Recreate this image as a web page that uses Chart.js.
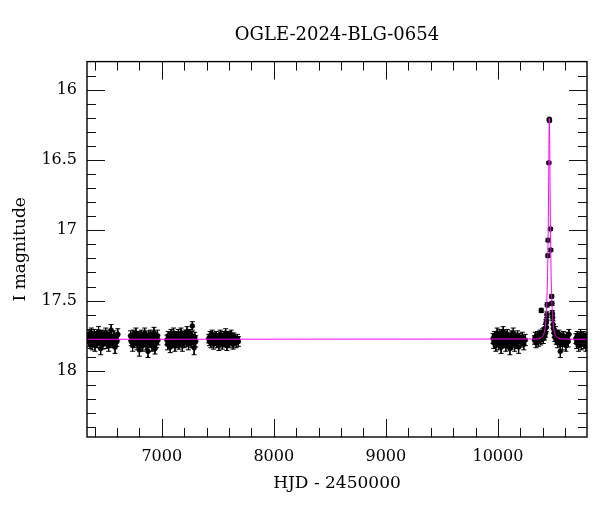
<!DOCTYPE html>
<html>
<head>
<meta charset="utf-8">
<script src="https://cdn.jsdelivr.net/npm/chart.js@4.4.1/dist/chart.umd.min.js"></script>
<style>
  html, body { margin: 0; padding: 0; background: #fff; }
  canvas { display: block; }
</style>
</head>
<body>
<canvas id="lc" width="600" height="512"></canvas>
<script>
// OGLE-2024-BLG-0654 light curve: [HJD-2450000, I mag, error]

const season2013 = [
    [6341,17.76,0.03],[6348,17.79,0.035],[6353,17.74,0.03],[6360,17.80,0.04],[6366,17.77,0.03],
    [6372,17.73,0.035],[6379,17.81,0.04],[6385,17.76,0.03],[6391,17.78,0.03],[6398,17.74,0.035],
    [6404,17.82,0.04],[6410,17.77,0.03],[6417,17.75,0.03],[6423,17.80,0.035],[6430,17.78,0.03],
    [6436,17.72,0.035],[6442,17.79,0.03],[6449,17.76,0.03],[6455,17.84,0.045],[6461,17.77,0.03],
    [6468,17.74,0.03],[6474,17.81,0.035],[6480,17.78,0.03],[6487,17.75,0.035],[6493,17.79,0.03],
    [6500,17.73,0.035],[6506,17.80,0.04],[6512,17.77,0.03],[6519,17.76,0.03],[6526,17.82,0.04],
    [6533,17.74,0.03],[6540,17.78,0.035],[6548,17.71,0.04],[6556,17.80,0.035],[6565,17.77,0.03],
    [6574,17.75,0.035],[6583,17.83,0.045],[6592,17.76,0.03],[6600,17.79,0.035],[6608,17.74,0.04]
];

const season2014 = [
    [6722,17.75,0.035],[6728,17.79,0.03],[6734,17.77,0.03],[6740,17.82,0.04],[6746,17.74,0.03],
    [6752,17.78,0.03],[6758,17.80,0.035],[6764,17.76,0.03],[6770,17.73,0.035],[6776,17.79,0.03],
    [6782,17.81,0.04],[6788,17.77,0.03],[6794,17.75,0.03],[6800,17.85,0.045],[6806,17.78,0.03],
    [6812,17.80,0.035],[6818,17.74,0.03],[6824,17.77,0.03],[6830,17.82,0.04],[6836,17.76,0.03],
    [6842,17.79,0.035],[6848,17.73,0.035],[6854,17.78,0.03],[6860,17.81,0.04],[6866,17.76,0.03],
    [6872,17.79,0.03],[6877,17.86,0.045],[6883,17.75,0.035],[6889,17.78,0.03],[6895,17.80,0.035],
    [6901,17.74,0.03],[6907,17.77,0.03],[6913,17.82,0.04],[6919,17.76,0.035],[6925,17.79,0.03],
    [6931,17.73,0.04],[6937,17.78,0.03],[6940,17.84,0.04],[6947,17.76,0.035],[6954,17.80,0.035],
    [6962,17.75,0.04],[6966,17.78,0.035]
];

const season2015 = [
    [7046,17.78,0.035],[7052,17.81,0.04],[7058,17.75,0.03],[7064,17.79,0.03],[7070,17.77,0.03],
    [7076,17.83,0.04],[7082,17.74,0.035],[7088,17.78,0.03],[7094,17.80,0.035],[7100,17.76,0.03],
    [7106,17.73,0.035],[7112,17.79,0.03],[7118,17.82,0.04],[7124,17.77,0.03],[7130,17.75,0.03],
    [7136,17.80,0.035],[7142,17.78,0.03],[7148,17.74,0.035],[7154,17.81,0.035],[7160,17.76,0.03],
    [7166,17.79,0.03],[7172,17.73,0.035],[7178,17.77,0.03],[7184,17.82,0.04],[7190,17.75,0.03],
    [7196,17.78,0.03],[7202,17.80,0.035],[7208,17.74,0.03],[7214,17.77,0.03],[7220,17.79,0.035],
    [7226,17.72,0.035],[7232,17.76,0.03],[7238,17.81,0.04],[7244,17.78,0.03],[7250,17.74,0.035],
    [7256,17.77,0.03],[7262,17.80,0.035],[7268,17.75,0.03],[7273,17.68,0.03],[7280,17.78,0.035],
    [7289,17.835,0.05],[7295,17.76,0.035],[7303,17.79,0.04]
];

const season2016 = [
    [7420,17.77,0.03],[7426,17.79,0.03],[7432,17.75,0.03],[7438,17.80,0.035],[7444,17.77,0.025],
    [7450,17.74,0.03],[7456,17.78,0.03],[7462,17.81,0.035],[7468,17.76,0.03],[7474,17.79,0.03],
    [7480,17.77,0.025],[7486,17.75,0.03],[7492,17.80,0.035],[7498,17.78,0.03],[7504,17.76,0.025],
    [7510,17.82,0.035],[7516,17.77,0.03],[7522,17.74,0.03],[7528,17.79,0.03],[7534,17.76,0.025],
    [7540,17.81,0.035],[7546,17.78,0.03],[7552,17.75,0.03],[7558,17.80,0.03],[7564,17.77,0.025],
    [7570,17.73,0.03],[7576,17.79,0.03],[7582,17.82,0.035],[7588,17.76,0.03],[7594,17.78,0.025],
    [7600,17.75,0.03],[7606,17.80,0.035],[7612,17.77,0.03],[7620,17.74,0.03],[7628,17.79,0.03],
    [7636,17.81,0.035],[7645,17.76,0.03],[7655,17.78,0.03],[7665,17.80,0.035],[7676,17.77,0.03],
    [7684,17.79,0.035]
];

const season2023 = [
    [9957,17.77,0.035],[9963,17.80,0.04],[9969,17.75,0.03],[9975,17.79,0.035],[9981,17.82,0.04],
    [9987,17.76,0.03],[9993,17.73,0.035],[9999,17.78,0.03],[10005,17.81,0.04],[10011,17.77,0.03],
    [10017,17.74,0.035],[10023,17.79,0.03],[10029,17.83,0.045],[10035,17.76,0.03],[10041,17.78,0.035],
    [10047,17.72,0.035],[10053,17.80,0.035],[10059,17.77,0.03],[10065,17.75,0.03],[10071,17.82,0.04],
    [10077,17.78,0.03],[10083,17.74,0.035],[10089,17.80,0.035],[10095,17.76,0.03],[10101,17.79,0.03],
    [10107,17.84,0.045],[10113,17.77,0.03],[10119,17.75,0.035],[10125,17.81,0.035],[10131,17.78,0.03],
    [10137,17.73,0.035],[10143,17.79,0.035],[10149,17.82,0.04],[10155,17.76,0.03],[10161,17.78,0.035],
    [10168,17.80,0.04],[10176,17.75,0.035],[10185,17.83,0.045],[10195,17.77,0.035],[10206,17.79,0.04],
    [10218,17.76,0.035],[10231,17.81,0.04],[10244,17.78,0.04]
];

const season2024 = [
    [10326,17.78,0.03],[10333,17.76,0.035],[10340,17.80,0.035],[10347,17.77,0.03],[10354,17.75,0.03],
    [10361,17.79,0.035],[10368,17.76,0.03],[10375,17.74,0.03],[10382,17.78,0.035],[10387,17.57,0.015],
    [10392,17.75,0.03],[10399,17.73,0.03],[10405,17.77,0.035],[10411,17.72,0.03],[10416,17.75,0.03],
    [10421,17.70,0.03],[10425,17.73,0.03],[10429,17.66,0.025],[10432,17.69,0.03],[10435,17.64,0.02],
    [10437,17.60,0.02],[10440,17.53,0.015],
    // the event
    [10446,17.18,0.012],[10448,17.07,0.01],[10454.5,16.52,0.008],[10458.6,16.21,0.007],[10459.4,16.22,0.007],
    [10469,16.99,0.01],[10471.5,17.14,0.01],[10480,17.47,0.012],[10482,17.52,0.015],
    [10485,17.59,0.02],[10488,17.62,0.02],[10492,17.67,0.025],[10497,17.70,0.03],[10502,17.73,0.03],
    [10508,17.76,0.03],[10514,17.72,0.035],[10520,17.78,0.03],[10526,17.75,0.03],[10532,17.80,0.035],
    [10538,17.77,0.03],[10544,17.74,0.03],[10550,17.79,0.035],[10557,17.86,0.045],[10563,17.76,0.03],
    [10569,17.78,0.035],[10576,17.81,0.04],[10583,17.75,0.03],[10590,17.79,0.035],[10598,17.77,0.03],
    [10607,17.82,0.04],[10617,17.76,0.035],[10627,17.79,0.04],[10634,17.74,0.035]
];

const season2025 = [
    [10696,17.77,0.035],[10702,17.80,0.04],[10708,17.75,0.03],[10714,17.79,0.035],[10720,17.82,0.04],
    [10726,17.76,0.03],[10732,17.78,0.035],[10738,17.74,0.035],[10744,17.81,0.04],[10750,17.77,0.03],
    [10756,17.79,0.035],[10762,17.75,0.03],[10768,17.80,0.04],[10774,17.78,0.035],[10780,17.76,0.03],
    [10786,17.82,0.04],[10792,17.77,0.035],[10798,17.79,0.04]
];

// model curve
const modelT = [6333, 10339, 10389, 10414, 10429, 10439, 10444, 10449, 10453, 10456, 10459,
                10462, 10465, 10469, 10474, 10479, 10489, 10504, 10529, 10579, 10795];
const modelMag = [17.775, 17.773, 17.762, 17.723, 17.627, 17.445, 17.27, 16.985, 16.65, 16.36, 16.203,
                  16.36, 16.65, 16.985, 17.27, 17.445, 17.627, 17.723, 17.762, 17.773, 17.775];

// axes
const xMajorTicks = [7000, 8000, 9000, 10000];
const xMinorTicks = [6400, 6600, 6800, 7200, 7400, 7600, 7800, 8200, 8400, 8600, 8800,
                     9200, 9400, 9600, 9800, 10200, 10400, 10600];
const yMajorTicks = [16, 16.5, 17, 17.5, 18];
const yMinorTicks = [15.9, 16.1, 16.2, 16.3, 16.4, 16.6, 16.7, 16.8, 16.9, 17.1, 17.2, 17.3, 17.4,
                     17.6, 17.7, 17.8, 17.9, 18.1, 18.2, 18.3, 18.4];

const allPoints = [].concat(season2013, season2014, season2015, season2016,
                            season2023, season2024, season2025);

const pointData = allPoints.map(p => ({x: p[0], y: p[1]}));
const errorData = allPoints.flatMap(p => [
    {x: p[0], y: p[1] - p[2]},
    {x: p[0], y: p[1] + p[2]},
    {x: p[0], y: null}
]);
const modelData = modelT.map((t, i) => ({x: t, y: modelMag[i]}));

const serif = 'DejaVu Serif';

// box + inward ticks on all four sides
const frameTicks = {
    id: 'frameTicks',
    afterDatasetsDraw(chart) {
        const {ctx, chartArea: a} = chart;
        const x = chart.scales.x, y = chart.scales.y;
        ctx.save();
        ctx.strokeStyle = '#111';
        ctx.lineWidth = 1;

        const tickX = (vals, len) => vals.forEach(v => {
            const px = Math.round(x.getPixelForValue(v)) + 0.5;
            ctx.beginPath();
            ctx.moveTo(px, a.bottom); ctx.lineTo(px, a.bottom - len);
            ctx.moveTo(px, a.top); ctx.lineTo(px, a.top + len);
            ctx.stroke();
        });
        const tickY = (vals, len) => vals.forEach(v => {
            const py = Math.round(y.getPixelForValue(v)) + 0.5;
            ctx.beginPath();
            ctx.moveTo(a.left, py); ctx.lineTo(a.left + len, py);
            ctx.moveTo(a.right, py); ctx.lineTo(a.right - len, py);
            ctx.stroke();
        });
        tickX(xMajorTicks, 18);
        tickX(xMinorTicks, 9);
        tickY(yMajorTicks, 18);
        tickY(yMinorTicks, 9);

        ctx.lineWidth = 1.4;
        ctx.strokeStyle = '#000';
        ctx.strokeRect(a.left, a.top, a.right - a.left, a.bottom - a.top);
        ctx.restore();
    }
};

new Chart(document.getElementById('lc'), {
    type: 'scatter',
    data: {
        datasets: [
            {
                label: 'model',
                data: modelData,
                showLine: true,
                borderColor: '#f0f',
                borderWidth: 1,
                pointRadius: 0,
                cubicInterpolationMode: 'monotone',
                clip: 0,
                order: 0
            },
            {
                label: 'OGLE',
                data: pointData,
                pointRadius: 2.5,
                pointStyle: 'circle',
                backgroundColor: '#000',
                borderColor: '#000',
                borderWidth: 0.5,
                clip: 0,
                order: 1
            },
            {
                label: 'errors',
                data: errorData,
                showLine: true,
                spanGaps: false,
                borderColor: '#000',
                borderWidth: 1,
                pointStyle: 'line',
                pointRadius: 2.5,
                pointBorderWidth: 1,
                pointBorderColor: '#000',
                clip: 0,
                order: 2
            }
        ]
    },
    options: {
        responsive: false,
        animation: false,
        devicePixelRatio: 1,
        layout: { padding: { left: 0, right: 13, top: 0, bottom: 0 } },
        plugins: {
            legend: { display: false },
            tooltip: { enabled: false },
            title: {
                display: true,
                text: 'OGLE-2024-BLG-0654',
                fullSize: false,
                color: '#000',
                font: { family: serif, size: 18, weight: 'normal' },
                padding: { top: 25, bottom: 15 }
            }
        },
        scales: {
            x: {
                type: 'linear',
                min: 6333,
                max: 10795,
                afterBuildTicks: s => { s.ticks = xMajorTicks.map(v => ({value: v})); },
                afterFit: s => { s.height = 75; },
                grid: { display: false, drawTicks: false },
                border: { display: false },
                ticks: {
                    callback: v => String(v),
                    color: '#000',
                    font: { family: serif, size: 16 },
                    padding: 10,
                    maxRotation: 0,
                    autoSkip: false
                },
                title: {
                    display: true,
                    text: 'HJD - 2450000',
                    color: '#000',
                    font: { family: serif, size: 17 },
                    padding: { top: 4, bottom: 18 }
                }
            },
            y: {
                type: 'linear',
                reverse: true,
                min: 15.8,
                max: 18.47,
                afterBuildTicks: s => { s.ticks = yMajorTicks.map(v => ({value: v})); },
                afterFit: s => { s.width = 87; },
                grid: { display: false, drawTicks: false },
                border: { display: false },
                ticks: {
                    callback: v => String(v),
                    color: '#000',
                    font: { family: serif, size: 16 },
                    padding: 10,
                    autoSkip: false
                },
                title: {
                    display: true,
                    text: 'I magnitude',
                    color: '#000',
                    font: { family: serif, size: 17 },
                    padding: { top: 10, bottom: 4 }
                }
            }
        }
    },
    plugins: [frameTicks]
});
</script>
</body>
</html>
